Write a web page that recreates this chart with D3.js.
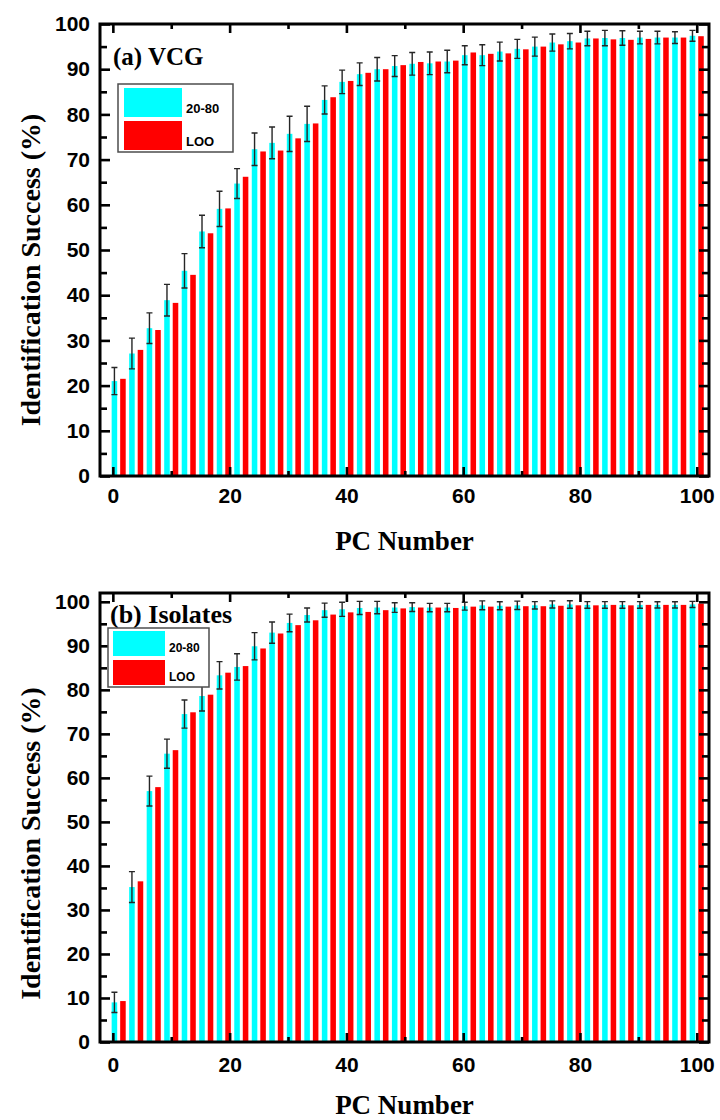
<!DOCTYPE html>
<html>
<head>
<meta charset="utf-8">
<script src="https://cdn.jsdelivr.net/npm/d3@7"></script>
<style>
  html, body { margin: 0; padding: 0; background: #ffffff; }
  svg { display: block; }
</style>
</head>
<body>
<div id="chart"></div>
<script>
// PC numbers at which identification was evaluated
const pcNumbers = [1, 4, 7, 10, 13, 16, 19, 22, 25, 28, 31, 34, 37, 40, 43, 46, 49, 52,
                   55, 58, 61, 64, 67, 70, 73, 76, 79, 82, 85, 88, 91, 94, 97, 100];

// (a) VCG: 20-80 split (mean, std) and leave-one-out
const vcgSplit = [21.0, 27.1, 32.7, 38.9, 45.4, 54.1, 59.1, 64.7, 72.3, 73.7, 75.7, 77.9,
                  83.2, 87.2, 88.9, 90.0, 90.7, 91.2, 91.3, 91.7, 93.1, 93.1, 93.9, 94.5,
                  95.0, 95.9, 96.2, 96.8, 96.9, 96.9, 97.0, 97.0, 97.0, 97.4];
const vcgSplitErr = [3.0, 3.4, 3.4, 3.5, 3.8, 3.6, 3.9, 3.3, 3.6, 3.5, 3.9, 3.9,
                     3.1, 2.6, 2.5, 2.6, 2.3, 2.5, 2.5, 2.5, 2.1, 2.3, 2.1, 2.1,
                     2.1, 1.9, 1.7, 1.6, 1.7, 1.6, 1.4, 1.4, 1.3, 1.2];
const vcgLoo = [21.5, 27.9, 32.3, 38.3, 44.5, 53.7, 59.2, 66.2, 71.8, 72.0, 74.7, 78.0,
                83.8, 87.4, 89.2, 90.0, 90.9, 91.6, 91.7, 91.9, 93.7, 93.4, 93.5, 94.4,
                95.0, 95.5, 95.9, 96.8, 96.6, 96.5, 96.7, 97.0, 97.0, 97.3];

// (b) Isolates: 20-80 split (mean, std) and leave-one-out
const isoSplit = [9.0, 35.2, 57.0, 65.5, 74.5, 78.6, 83.3, 85.2, 89.9, 93.0, 95.2, 97.0,
                  98.1, 98.3, 98.6, 98.7, 98.7, 98.8, 98.7, 98.7, 99.0, 99.2, 99.1, 99.2,
                  99.2, 99.4, 99.4, 99.3, 99.3, 99.3, 99.3, 99.3, 99.3, 99.4];
const isoSplitErr = [2.3, 3.5, 3.4, 3.3, 3.2, 3.4, 3.1, 3.0, 3.1, 2.4, 2.0, 1.6,
                     1.6, 1.6, 1.5, 1.4, 1.1, 1.0, 0.95, 0.95, 0.9, 1.0, 0.9, 0.95,
                     0.85, 0.8, 0.85, 0.75, 0.75, 0.75, 0.75, 0.7, 0.7, 0.7];
const isoLoo = [9.3, 36.5, 57.9, 66.3, 74.9, 78.9, 83.9, 85.4, 89.4, 92.8, 94.7, 95.8,
                97.1, 97.6, 97.7, 98.1, 98.5, 98.7, 98.7, 98.6, 98.9, 98.9, 98.9, 99.0,
                99.0, 99.1, 99.2, 99.2, 99.3, 99.2, 99.3, 99.3, 99.3, 99.6];

// Series names and tick values
const seriesNames = ["20-80", "LOO"];
const seriesColors = ["#00ffff", "#ff0000"];
const xMajorTicks = [0, 20, 40, 60, 80, 100];
const xMinorTicks = [10, 30, 50, 70, 90];
const yMajorTicks = [0, 10, 20, 30, 40, 50, 60, 70, 80, 90, 100];
const yMinorTicks = [5, 15, 25, 35, 45, 55, 65, 75, 85, 95];

const W = 720, H = 1120;
const svg = d3.select("#chart").append("svg")
  .attr("width", W).attr("height", H)
  .attr("viewBox", `0 0 ${W} ${H}`);

const SANS = "'Liberation Sans', Arial, Helvetica, sans-serif";
const SERIF = "'Liberation Serif', 'Times New Roman', Times, serif";

function drawPanel(cfg) {
  const left = 100, right = 709;
  const { top, bottom, yMax, split, splitErr, loo, label, legend } = cfg;

  const x = d3.scaleLinear().domain([-2.2, 102.1]).range([left, right]);
  const y = d3.scaleLinear().domain([0, yMax]).range([bottom, top]);

  const g = svg.append("g");
  const barW = x(0.95) - x(0);
  const offset = 0.73;

  const rows = pcNumbers.map((pc, i) => ({ pc, split: split[i], err: splitErr[i], loo: loo[i] }));

  // 20-80 bars
  g.append("g").selectAll("rect").data(rows).join("rect")
    .attr("x", d => x(d.pc - offset) - barW / 2)
    .attr("y", d => y(d.split))
    .attr("width", barW)
    .attr("height", d => y(0) - y(d.split))
    .attr("fill", seriesColors[0]);

  // LOO bars
  g.append("g").selectAll("rect").data(rows).join("rect")
    .attr("x", d => x(d.pc + offset) - barW / 2)
    .attr("y", d => y(d.loo))
    .attr("width", barW)
    .attr("height", d => y(0) - y(d.loo))
    .attr("fill", seriesColors[1]);

  // error bars on the 20-80 series
  const eb = g.append("g").attr("stroke", "#262626").attr("stroke-width", 1.4).attr("fill", "none");
  const cap = 3;
  eb.selectAll("path").data(rows).join("path")
    .attr("d", d => {
      const cx = x(d.pc - offset);
      const y1 = y(Math.min(d.split + d.err, yMax));
      const y2 = y(d.split - d.err);
      return `M${cx},${y1}V${y2}M${cx - cap},${y1}H${cx + cap}M${cx - cap},${y2}H${cx + cap}`;
    });

  // axes: ticks point inward on all four sides
  function styleAxis(sel, showLabels) {
    sel.select(".domain").remove();
    sel.selectAll(".tick line").attr("stroke", "#000").attr("stroke-width", 2.6);
    sel.selectAll(".tick text")
      .attr("font-family", SANS).attr("font-weight", "bold")
      .attr("font-size", 21).attr("fill", "#000");
    if (!showLabels) sel.selectAll(".tick text").remove();
  }

  g.append("g").attr("transform", `translate(0,${bottom})`)
    .call(d3.axisBottom(x).tickValues(xMajorTicks).tickSize(-9).tickPadding(cfg.xPad).tickFormat(d3.format("d")))
    .call(s => styleAxis(s, true));
  g.append("g").attr("transform", `translate(0,${bottom})`)
    .call(d3.axisBottom(x).tickValues(xMinorTicks).tickSize(-5))
    .call(s => styleAxis(s, false));
  g.append("g").attr("transform", `translate(0,${top})`)
    .call(d3.axisTop(x).tickValues(xMajorTicks).tickSize(-9))
    .call(s => styleAxis(s, false));
  g.append("g").attr("transform", `translate(0,${top})`)
    .call(d3.axisTop(x).tickValues(xMinorTicks).tickSize(-5))
    .call(s => styleAxis(s, false));

  g.append("g").attr("transform", `translate(${left},0)`)
    .call(d3.axisLeft(y).tickValues(yMajorTicks).tickSize(-10).tickPadding(10).tickFormat(d3.format("d")))
    .call(s => styleAxis(s, true));
  g.append("g").attr("transform", `translate(${left},0)`)
    .call(d3.axisLeft(y).tickValues(yMinorTicks).tickSize(-7))
    .call(s => styleAxis(s, false));
  g.append("g").attr("transform", `translate(${right},0)`)
    .call(d3.axisRight(y).tickValues(yMajorTicks).tickSize(-10))
    .call(s => styleAxis(s, false));
  g.append("g").attr("transform", `translate(${right},0)`)
    .call(d3.axisRight(y).tickValues(yMinorTicks).tickSize(-7))
    .call(s => styleAxis(s, false));

  // frame
  g.append("rect")
    .attr("x", left).attr("y", top)
    .attr("width", right - left).attr("height", bottom - top)
    .attr("fill", "none").attr("stroke", "#000").attr("stroke-width", 3);

  // panel label
  g.append("text")
    .attr("x", label.x).attr("y", label.y)
    .attr("font-family", SERIF).attr("font-weight", "bold")
    .attr("font-size", label.size).attr("fill", "#000")
    .text(label.text);

  // legend
  const lg = g.append("g");
  lg.append("rect")
    .attr("x", legend.x).attr("y", legend.y)
    .attr("width", legend.w).attr("height", legend.h)
    .attr("fill", "#fff").attr("stroke", "#4d4d4d").attr("stroke-width", 1.5);
  seriesNames.forEach((name, i) => {
    lg.append("rect")
      .attr("x", legend.x + legend.pad)
      .attr("y", legend.y + legend.padTop + i * (legend.sh + legend.gap))
      .attr("width", legend.sw).attr("height", legend.sh)
      .attr("fill", seriesColors[i]);
    lg.append("text")
      .attr("x", legend.x + legend.pad + legend.sw + 4)
      .attr("y", legend.y + legend.padTop + i * (legend.sh + legend.gap) + legend.sh - 4)
      .attr("font-family", SANS).attr("font-weight", "bold")
      .attr("font-size", legend.fs).attr("fill", "#000")
      .text(name);
  });

  // axis titles
  g.append("text")
    .attr("x", (left + right) / 2).attr("y", cfg.xTitleY)
    .attr("text-anchor", "middle")
    .attr("font-family", SERIF).attr("font-weight", "bold")
    .attr("font-size", 27).attr("fill", "#000")
    .text("PC Number");
  g.append("text")
    .attr("transform", `translate(40,${(top + bottom) / 2 + cfg.yTitleShift}) rotate(-90)`)
    .attr("text-anchor", "middle")
    .attr("font-family", SERIF).attr("font-weight", "bold")
    .attr("font-size", 28).attr("fill", "#000")
    .text("Identification Success (%)");
}

drawPanel({
  top: 24, bottom: 476, yMax: 100,
  split: vcgSplit, splitErr: vcgSplitErr, loo: vcgLoo,
  label: { text: "(a) VCG", x: 113, y: 65, size: 25 },
  legend: { x: 118, y: 84, w: 115, h: 68, pad: 6, padTop: 4, sw: 58, sh: 29, gap: 4, fs: 13 },
  xPad: 12, xTitleY: 550, yTitleShift: 20
});

drawPanel({
  top: 593, bottom: 1042, yMax: 102,
  split: isoSplit, splitErr: isoSplitErr, loo: isoLoo,
  label: { text: "(b) Isolates", x: 110, y: 623, size: 26 },
  legend: { x: 108, y: 628, w: 101, h: 59, pad: 5, padTop: 3, sw: 52, sh: 25, gap: 4, fs: 12 },
  xPad: 15, xTitleY: 1114, yTitleShift: 26
});
</script>
</body>
</html>
